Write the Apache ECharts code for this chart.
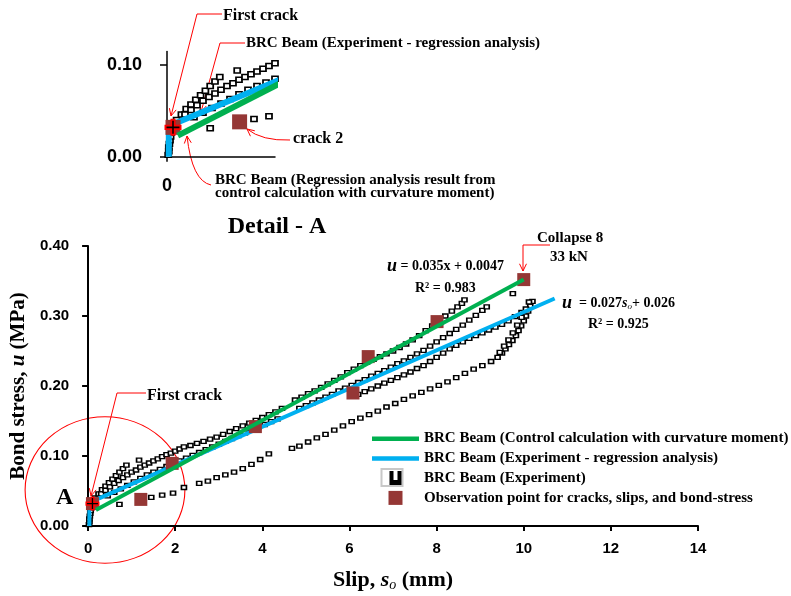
<!DOCTYPE html>
<html><head><meta charset="utf-8">
<script src="https://cdn.jsdelivr.net/npm/echarts@6/dist/echarts.min.js"></script>
<style>html,body{margin:0;padding:0;background:#fff}#c{width:791px;height:596px}</style>
</head><body><div id="c"></div>
<script>
// ---- axis ticks ----
const xTicks = [0, 2, 4, 6, 8, 10, 12, 14];
const yTicks = [0, 0.1, 0.2, 0.3, 0.4];
const insetXTicks = [0];
const insetYTicks = [0, 0.1];
const insetXMax = 1.8;
const insetYMax = 0.1147;

// ---- experiment data (slip mm, bond stress MPa), read branch by branch ----
const rowOrigin = [[0.02,0.002],[0.03,0.006],[0.03,0.010],[0.04,0.014],[0.05,0.018],[0.06,0.022],[0.07,0.026],[0.08,0.030]];
const rowSteep = [[0.16,0.040],[0.24,0.046],[0.32,0.052],[0.40,0.057],[0.48,0.062],[0.56,0.067],[0.64,0.072],[0.72,0.077],[0.80,0.082],[0.88,0.087]];
const rowA = [[0.30,0.046],[0.40,0.051],[0.50,0.056],[0.60,0.061],[0.70,0.065],[0.80,0.069],[0.90,0.073],[1.00,0.077],[1.10,0.080],[1.20,0.084],[1.30,0.087],[1.40,0.090],[1.50,0.093],[1.60,0.096],[1.70,0.099],[1.80,0.102],[1.90,0.104],[2.00,0.107],[2.10,0.110],[2.20,0.113],[2.35,0.115],[2.50,0.118],[2.65,0.121],[2.80,0.124],[2.95,0.127],[3.10,0.131],[3.25,0.135],[3.40,0.139],[3.55,0.143],[3.70,0.147],[3.85,0.151],[4.00,0.155],[4.15,0.159],[4.30,0.163],[4.45,0.168],[4.75,0.180],[4.90,0.184],[5.05,0.189],[5.20,0.193],[5.35,0.198],[5.50,0.203],[5.65,0.208],[5.80,0.213],[5.95,0.219],[6.10,0.224],[6.25,0.229],[6.40,0.234],[6.55,0.238],[6.70,0.242],[6.85,0.246],[7.00,0.250],[7.15,0.255],[7.30,0.260],[7.45,0.266],[7.60,0.272],[7.75,0.279],[7.90,0.286],[8.05,0.293],[8.20,0.300],[8.35,0.307],[8.48,0.313],[8.58,0.318],[8.64,0.323]];
const rowB = [[0.45,0.043],[0.60,0.048],[0.75,0.053],[0.90,0.058],[1.05,0.063],[1.20,0.068],[1.35,0.073],[1.50,0.077],[1.65,0.081],[1.80,0.085],[1.95,0.089],[2.10,0.093],[2.25,0.097],[2.40,0.101],[2.55,0.105],[2.70,0.109],[2.85,0.113],[3.00,0.117],[3.15,0.121],[3.30,0.125],[3.45,0.129],[3.60,0.133],[3.75,0.137],[3.90,0.141],[4.05,0.145],[4.20,0.149],[4.35,0.153],[4.85,0.168],[5.00,0.172],[5.15,0.176],[5.30,0.180],[5.45,0.184],[5.60,0.188],[5.75,0.193],[5.90,0.197],[6.05,0.201],[6.20,0.205],[6.35,0.209],[6.50,0.214],[6.65,0.218],[6.80,0.222],[6.95,0.227],[7.10,0.232],[7.25,0.236],[7.40,0.241],[7.55,0.246],[7.70,0.251],[7.85,0.257],[8.00,0.263],[8.15,0.269],[8.30,0.275],[8.45,0.281],[8.60,0.287],[8.75,0.294],[8.90,0.301],[9.05,0.308],[9.15,0.313]];
const rowC = [[6.20,0.188],[6.35,0.192],[6.50,0.196],[6.65,0.200],[6.80,0.204],[6.95,0.208],[7.10,0.212],[7.25,0.216],[7.40,0.220],[7.55,0.225],[7.70,0.229],[7.85,0.235],[8.00,0.241],[8.15,0.247],[8.30,0.253],[8.45,0.258],[8.60,0.263],[8.75,0.268],[8.90,0.272],[9.05,0.276],[9.20,0.280],[9.35,0.284],[9.50,0.288],[9.65,0.293],[9.80,0.299],[9.95,0.305]];
const rowD = [[0.72,0.031],[1.45,0.041],[1.70,0.044],[1.95,0.047],[2.20,0.055],[2.55,0.061],[2.75,0.064],[2.95,0.069],[3.15,0.073],[3.35,0.077],[3.55,0.082],[3.75,0.088],[3.95,0.095],[4.15,0.103],[4.68,0.111],[4.85,0.114],[5.05,0.120],[5.25,0.126],[5.45,0.131],[5.65,0.137],[5.85,0.143],[6.05,0.149],[6.25,0.154],[6.45,0.159],[6.65,0.164],[6.85,0.170],[7.05,0.175],[7.25,0.181],[7.45,0.186],[7.65,0.191],[7.85,0.196],[8.05,0.201],[8.25,0.206],[8.45,0.212],[8.65,0.218],[8.85,0.224],[9.05,0.229],[9.25,0.235],[9.40,0.241],[9.50,0.247],[9.58,0.253],[9.66,0.259],[9.74,0.265],[9.82,0.272],[9.88,0.279],[9.94,0.286],[10.00,0.293],[10.05,0.300],[10.10,0.307],[10.15,0.314],[10.20,0.321]];
const rowKnee = [[9.45,0.248],[9.55,0.257],[9.65,0.266],[9.75,0.276],[9.85,0.287],[9.95,0.298],[10.05,0.310],[10.12,0.320]];
const isolated = [[1.17,0.094],[9.75,0.332]];

// ---- fitted lines ----
const greenLine = [[0.18,0.023],[10.0,0.352]];           // control calculation with curvature moment
const blueLine = [[0.03,0.0],[0.03,0.029],[0.12,0.036],[10.71,0.325]]; // experiment regression

// ---- observation points ----
const observations = [[0.1,0.032],[1.21,0.038],[1.93,0.0895],[3.84,0.142],[6.08,0.190],[6.43,0.242],[8.01,0.292],[10.0,0.352]];
const firstCrack = [[0.1,0.032]];

const experiment = [].concat(rowOrigin, rowSteep, rowA, rowB, rowC, rowD, rowKnee, isolated);

const GREEN = '#00B050', BLUE = '#00B0F0', BROWN = '#953735', RED = '#FF0000';
const SERIF = '"Liberation Serif", "Times New Roman", serif';
const SANS = '"Liberation Sans", Arial, sans-serif';

const names = {
  green: 'BRC Beam (Control calculation with curvature moment)',
  blue: 'BRC Beam (Experiment - regression analysis)',
  exp: 'BRC Beam (Experiment)',
  obs: 'Observation point for cracks, slips, and bond-stress'
};

const redPlus = 'path://M3.5,0 H6.5 V3.5 H10 V6.5 H6.5 V10 H3.5 V6.5 H0 V3.5 H3.5 Z';
const blackPlus = 'path://M4.4,0 H5.6 V4.4 H10 V5.6 H5.6 V10 H4.4 V5.6 H0 V4.4 H4.4 Z';
const uIcon = 'path://M0,0 H4 V9 H8 V0 H12 V14 H0 Z';
const barIcon = 'path://M0,0 L0.01,0 L0,0.01 Z M0,5 L47,5 L47,9.5 L0,9.5 Z M47,14 L46.99,14 L47,13.99 Z';
const squareIcon = 'path://M0,0 H10 V10 H0 Z';

function arrowGroup(pts) {
  const els = [];
  els.push({type:'polyline', shape:{points:pts}, style:{stroke:RED, fill:null, lineWidth:1}, silent:true});
  const [x2,y2] = pts[pts.length-1], [x1,y1] = pts[pts.length-2];
  const a = Math.atan2(y2-y1, x2-x1), L = 8, w = 0.45;
  els.push({type:'polyline', shape:{points:[[x2-L*Math.cos(a-w), y2-L*Math.sin(a-w)],[x2,y2],[x2-L*Math.cos(a+w), y2-L*Math.sin(a+w)]]}, style:{stroke:RED, fill:null, lineWidth:1}, silent:true});
  return els;
}
function curveArrow(x1,y1,cx,cy,x2,y2) {
  const els = [];
  els.push({type:'bezierCurve', shape:{x1:x1,y1:y1,cpx1:cx,cpy1:cy,x2:x2,y2:y2}, style:{stroke:RED, fill:null, lineWidth:1}, silent:true});
  const a = Math.atan2(y2-cy, x2-cx), L = 8, w = 0.45;
  els.push({type:'polyline', shape:{points:[[x2-L*Math.cos(a-w), y2-L*Math.sin(a-w)],[x2,y2],[x2-L*Math.cos(a+w), y2-L*Math.sin(a+w)]]}, style:{stroke:RED, fill:null, lineWidth:1}, silent:true});
  return els;
}
function txt(x, y, text, size, extra) {
  return {type:'text', x:x, y:y, silent:true, style:Object.assign({text:text, fill:'#000', font:'bold '+size+'px '+SERIF, textVerticalAlign:'middle', verticalAlign:'middle'}, extra||{})};
}

const graphics = [].concat(
  // Inset annotations
  [txt(223, 16, 'First crack', 16)],
  arrowGroup([[222,14],[197,14],[171,116]]),
  [txt(246, 43, 'BRC Beam (Experiment - regression analysis)', 15)],
  arrowGroup([[245,43],[220,43],[201,112]]),
  [txt(293, 139, 'crack 2', 16)],
  curveArrow(290,140,262,141,247,129),
  [txt(215, 187, 'BRC Beam (Regression analysis result from\ncontrol calculation with curvature moment)', 15, {lineHeight:13})],
  curveArrow(211,185,192,181,187,136),
  [txt(277, 227, 'Detail - A', 24, {textAlign:'center', align:'center'})],
  // Main annotations
  [{type:'circle', x:105, y:490, scaleX:1.09, scaleY:1, shape:{cx:0, cy:0, r:73.3}, style:{stroke:RED, fill:null, lineWidth:1}, silent:true}],
  [txt(56, 498, 'A', 24)],
  [txt(147, 396, 'First crack', 16)],
  arrowGroup([[146,393],[117,393],[91,496]]),
  [txt(537, 238, 'Collapse 8', 15)],
  [txt(550, 257, '33 kN', 15)],
  arrowGroup([[550,245],[523,245],[523,271]]),
  [txt(387, 266, '{i|u} = 0.035x + 0.0047', 14, {rich:{i:{fontStyle:'italic', fontWeight:'bold', fontSize:18, fontFamily:SERIF}}})],
  [txt(415, 288, 'R² = 0.983', 14)],
  [txt(562, 303, '{i|u}  = 0.027{i2|s}{sub|o}+ 0.026', 14, {rich:{i:{fontStyle:'italic', fontWeight:'bold', fontSize:18, fontFamily:SERIF}, i2:{fontStyle:'italic', fontWeight:'bold', fontSize:14, fontFamily:SERIF}, sub:{fontStyle:'italic', fontSize:9, fontFamily:SERIF, padding:[7,0,0,0]}}})],
  [txt(588, 324, 'R² = 0.925', 14)],
  // grey frame of the experiment legend icon
  [{type:'rect', shape:{x:381.5, y:469, width:21, height:17}, style:{stroke:'#c8c8c8', fill:null, lineWidth:2}, silent:true, z:-1}]
);

const axisLineStyle = {lineStyle:{color:'#000', width:2}};

const option = {
  animation: false,
  backgroundColor: '#fff',
  grid: [
    {left:85.5, top:246, width:612.5, height:280},
    {left:167, top:51.5, width:108, height:105.2}
  ],
  legend: {
    orient:'vertical', left:367, top:426, itemWidth:47, itemHeight:14, itemGap:4.8,
    selectedMode:false,
    textStyle:{fontFamily:SERIF, fontWeight:'bold', fontSize:15, color:'#000'},
    data:[
      {name:names.green, icon:barIcon, itemStyle:{color:GREEN, borderWidth:0}},
      {name:names.blue, icon:barIcon, itemStyle:{color:BLUE, borderWidth:0}},
      {name:names.exp, icon:uIcon, itemStyle:{color:'#000', borderWidth:0}},
      {name:names.obs, icon:squareIcon, itemStyle:{color:BROWN, borderWidth:0}}
    ]
  },
  xAxis: [
    {gridIndex:0, type:'value', min:xTicks[0], max:xTicks[xTicks.length-1], interval:xTicks[1]-xTicks[0],
     splitLine:{show:false}, axisLine:axisLineStyle,
     axisTick:{show:true, inside:false, length:5, lineStyle:{color:'#000', width:2}},
     axisLabel:{margin:15, color:'#000', fontFamily:SANS, fontWeight:'bold', fontSize:15},
     name:'{b|Slip, }{i|s}{sub|o}{b| (mm)}', nameLocation:'middle', nameGap:42,
     nameTextStyle:{rich:{b:{fontFamily:SERIF, fontWeight:'bold', fontSize:22, color:'#000'}, i:{fontFamily:SERIF, fontWeight:'bold', fontStyle:'italic', fontSize:22, color:'#000'}, sub:{fontFamily:SERIF, fontStyle:'italic', fontSize:14, color:'#000', padding:[10,0,0,0]}}}},
    {gridIndex:0, type:'value', min:xTicks[0], max:xTicks[xTicks.length-1], interval:xTicks[1]-xTicks[0],
     splitLine:{show:false}, axisLine:{show:false}, axisLabel:{show:false},
     axisTick:{show:true, inside:true, length:4, lineStyle:{color:'#000', width:2}}},
    {gridIndex:1, type:'value', min:0, max:insetXMax,
     splitLine:{show:false}, axisLine:{lineStyle:{color:'#000', width:1.5}},
     axisTick:{show:true, length:5, customValues:insetXTicks, lineStyle:{color:'#000', width:1.5}},
     axisLabel:{show:true, customValues:insetXTicks, margin:20, color:'#000', fontFamily:SANS, fontWeight:'bold', fontSize:18}}
  ],
  yAxis: [
    {gridIndex:0, type:'value', min:yTicks[0], max:yTicks[yTicks.length-1], interval:yTicks[1]-yTicks[0],
     splitLine:{show:false}, axisLine:axisLineStyle,
     axisTick:{show:true, inside:false, length:6, lineStyle:{color:'#000', width:2}},
     axisLabel:{margin:19, color:'#000', fontFamily:SANS, fontWeight:'bold', fontSize:15, formatter:v=>v.toFixed(2)},
     name:'{b|Bond stress, }{i|u}{b| (MPa)}', nameLocation:'middle', nameGap:56,
     nameTextStyle:{rich:{b:{fontFamily:SERIF, fontWeight:'bold', fontSize:21, color:'#000'}, i:{fontFamily:SERIF, fontWeight:'bold', fontStyle:'italic', fontSize:21, color:'#000'}}}},
    {gridIndex:0, type:'value', min:yTicks[0], max:yTicks[yTicks.length-1], interval:yTicks[1]-yTicks[0],
     splitLine:{show:false}, axisLine:{show:false}, axisLabel:{show:false},
     axisTick:{show:true, inside:true, length:6, lineStyle:{color:'#000', width:2}}},
    {gridIndex:1, type:'value', min:0, max:insetYMax,
     splitLine:{show:false}, axisLine:{show:true, lineStyle:{color:'#000', width:1.5}},
     axisTick:{show:true, length:7, customValues:insetYTicks, lineStyle:{color:'#000', width:1.5}},
     axisLabel:{show:true, customValues:insetYTicks, margin:25, color:'#000', fontFamily:SANS, fontWeight:'bold', fontSize:18, formatter:v=>v.toFixed(2)}},
    {gridIndex:1, type:'value', min:0, max:insetYMax,
     splitLine:{show:false}, axisLine:{show:false}, axisLabel:{show:false},
     axisTick:{show:true, inside:true, length:7, customValues:[insetYTicks[1]], lineStyle:{color:'#000', width:1.5}}}
  ],
  series: [
    {name:names.exp, type:'scatter', xAxisIndex:0, yAxisIndex:0, data:experiment, symbol:'rect', symbolSize:[5,4],
     itemStyle:{color:'#fff', borderColor:'#000', borderWidth:1.5, opacity:1}, z:2},
    {name:names.blue, type:'line', xAxisIndex:0, yAxisIndex:0, data:blueLine, symbol:'none', showSymbol:false,
     lineStyle:{color:BLUE, width:4}, itemStyle:{color:BLUE}, z:3},
    {name:names.green, type:'line', xAxisIndex:0, yAxisIndex:0, data:greenLine, symbol:'none', showSymbol:false,
     lineStyle:{color:GREEN, width:4}, itemStyle:{color:GREEN}, z:4},
    {name:names.obs, type:'scatter', xAxisIndex:0, yAxisIndex:0, data:observations, symbol:'rect', symbolSize:13,
     itemStyle:{color:BROWN, opacity:1}, z:3},
    {name:'crackRed', type:'scatter', xAxisIndex:0, yAxisIndex:0, data:firstCrack, symbol:redPlus, symbolSize:14,
     itemStyle:{color:RED, opacity:1}, z:6},
    {name:'crackBlack', type:'scatter', xAxisIndex:0, yAxisIndex:0, data:firstCrack, symbol:blackPlus, symbolSize:11,
     itemStyle:{color:'#000', opacity:1}, z:7},
    // inset (detail A)
    {name:'insetExp', type:'scatter', xAxisIndex:2, yAxisIndex:2, data:experiment, symbol:'rect', symbolSize:[6,5], clip:true,
     itemStyle:{color:'#fff', borderColor:'#000', borderWidth:1.6, opacity:1}, z:2},
    {name:'insetBlue', type:'line', xAxisIndex:2, yAxisIndex:2, data:blueLine, symbol:'none', clip:true,
     lineStyle:{color:BLUE, width:6}, z:3},
    {name:'insetGreen', type:'line', xAxisIndex:2, yAxisIndex:2, data:greenLine, symbol:'none', clip:true,
     lineStyle:{color:GREEN, width:6}, z:4},
    {name:'insetObs', type:'scatter', xAxisIndex:2, yAxisIndex:2, data:observations, symbol:'rect', symbolSize:15, clip:true,
     itemStyle:{color:BROWN, opacity:1}, z:3},
    {name:'insetCrackRed', type:'scatter', xAxisIndex:2, yAxisIndex:2, data:firstCrack, symbol:redPlus, symbolSize:17,
     itemStyle:{color:RED, opacity:1}, z:6},
    {name:'insetCrackBlack', type:'scatter', xAxisIndex:2, yAxisIndex:2, data:firstCrack, symbol:blackPlus, symbolSize:13,
     itemStyle:{color:'#000', opacity:1}, z:7}
  ],
  graphic: graphics
};

const chart = echarts.init(document.getElementById('c'), null, {renderer:'canvas'});
chart.setOption(option);
</script>
</body></html>
